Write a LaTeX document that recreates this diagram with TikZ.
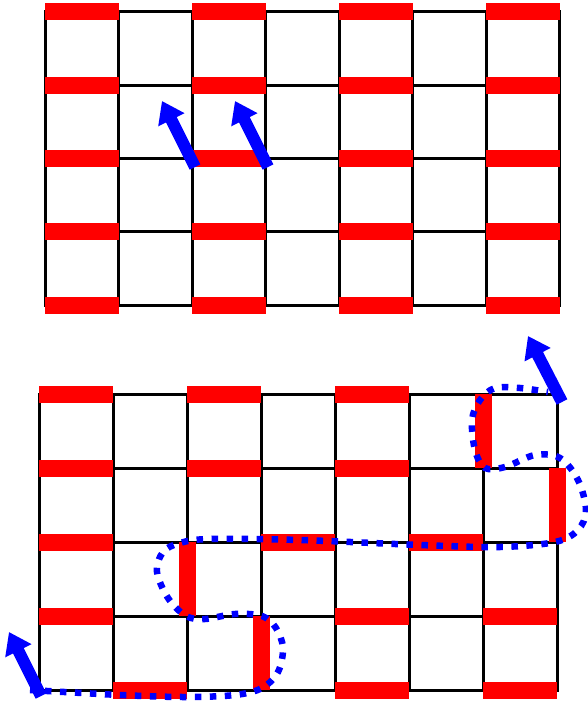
\documentclass[tikz,border=0pt]{standalone}
\usetikzlibrary{arrows.meta}
\begin{document}
\begin{tikzpicture}[x=1pt,y=-1pt,
  gridline/.style={line width=3pt, black, line cap=rect},
  redbar/.style={fill=red},
  bluearrow/.style={draw=blue, line width=12pt, -{Triangle[length=21pt,width=28pt]}},
  bluedots/.style={draw=blue, line width=6.5pt, dash pattern=on 6.5pt off 8.5pt}]
\useasboundingbox (0,0) rectangle (588,701);
% ---------- top grid ----------
\foreach \i in {0,...,7} \draw[gridline] ({45+73.5*\i},12) -- ({45+73.5*\i},305);
\foreach \j in {0,...,4} \draw[gridline] (45,{12+73.25*\j}) -- (559.5,{12+73.25*\j});
\foreach \i in {0,2,4,6} \foreach \j in {0,...,4}
  \fill[redbar] ({45+73.5*\i},{12+73.25*\j-8.5}) rectangle ++(73.5,17);
\coordinate (t1s) at (195,167); \coordinate (t1e) at (162,101);
\coordinate (t2s) at (268,167); \coordinate (t2e) at (235,101);
\draw[bluearrow] (t1s) -- (t1e);
\draw[bluearrow] (t2s) -- (t2e);
% ---------- bottom grid ----------
\foreach \i in {0,...,7} \draw[gridline] ({39+74*\i},394) -- ({39+74*\i},690);
\foreach \j in {0,...,4} \draw[gridline] (39,{394+74*\j}) -- (557,{394+74*\j});
% horizontal red bars (column, line)
\foreach \i/\j in {0/0,0/1,0/2,0/3,1/4,2/0,2/1,3/2,4/0,4/1,4/3,4/4,5/2,6/3,6/4}
  \fill[redbar] ({39+74*\i},{394+74*\j-8.5}) rectangle ++(74,17);
% vertical red bars (line x index, row)
\foreach \i/\j in {2/2,3/3,6/0,7/1}
  \fill[redbar] ({39+74*\i-8.5},{394+74*\j}) rectangle ++(17,74);
% dotted path
\draw[bluedots] plot[smooth, tension=0.55] coordinates {
  (30,690) (120,695) (185,697) (235,695) (262,688) (278,672) (283,648) (276,628)
  (262,616) (235,614) (205,619) (186,616) (168,598) (157,572) (163,552) (180,543)
  (210,539) (300,540) (420,545) (500,547) (555,542) (578,530) (586,510) (578,480)
  (560,458) (535,455) (505,467) (485,468) (475,450) (472,420) (480,400) (495,388)
  (520,388) (548,392)};
\coordinate (b1s) at (41,696); \coordinate (b1e) at (9,632);
\coordinate (b2s) at (562,402); \coordinate (b2e) at (528,336);
\draw[bluearrow] (b1s) -- (b1e);
\draw[bluearrow] (b2s) -- (b2e);
\end{tikzpicture}
\end{document}
